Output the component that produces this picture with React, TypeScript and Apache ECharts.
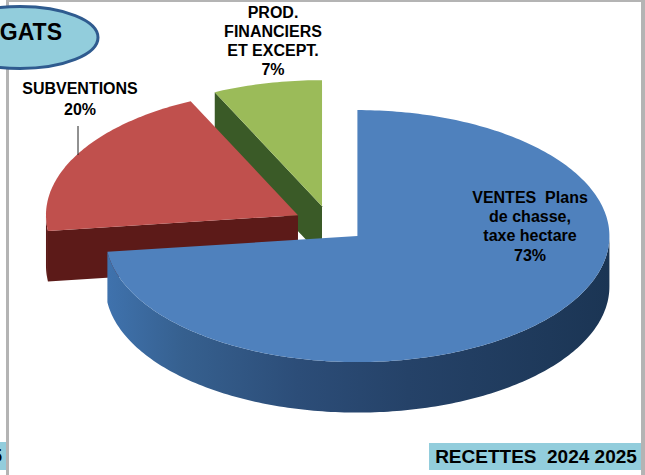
import React, { useEffect, useRef } from "react";
import * as echarts from "echarts";

const categories = ["VENTES  Plans\nde chasse,\ntaxe hectare", "SUBVENTIONS", "PROD.\nFINANCIERS\nET EXCEPT."];
const values = [73, 20, 7];
const topColors = ["#4f81bd", "#c0504d", "#9bbb59"];
const wallColors = ["#2a4a74", "#5c1a18", "#3a5a27"];
const titleText = "GATS";
const cornerText = "RECETTES  2024 2025";
const leftCornerText = "5";

const FONT = '"Liberation Sans", Arial, sans-serif';
const CX = 330, CY = 224, RX = 252, RY = 126, DEPTH = 50.5, EXPLODE = 0.145;

function renderSlice(params: any, api: any) {
  const i = params.dataIndex;
  const total = values.reduce((a, b) => a + b, 0);
  const before = values.slice(0, i).reduce((a, b) => a + b, 0);
  const a0 = (before / total) * 360;
  const a1 = ((before + api.value(0)) / total) * 360;
  const mid = ((a0 + a1) / 2) * Math.PI / 180;
  const ax = CX + EXPLODE * RX * Math.sin(mid);
  const ay = CY - EXPLODE * RY * Math.cos(mid);
  const pt = (deg: number, dy = 0): number[] => {
    const r = deg * Math.PI / 180;
    return [ax + RX * Math.sin(r), ay - RY * Math.cos(r) + dy];
  };
  const rim: number[][] = [];
  for (let d = a0; d < a1; d += 1) rim.push(pt(d));
  rim.push(pt(a1));

  const z = 10 * (values.length - i);
  const children: any[] = [];

  // wall seen along the slice's first cut edge
  if (a0 > 180) {
    children.push({
      type: "polygon",
      z2: z,
      shape: { points: [pt(a0), [ax, ay], [ax, ay + DEPTH], pt(a0, DEPTH)] },
      style: { fill: wallColors[i] },
    });
  }
  // outer wall, lower half of the rim
  if (a0 < 270 && a1 > 90) {
    const from = Math.max(a0, 90);
    const to = Math.min(a1, 270);
    const up: number[][] = [];
    const down: number[][] = [];
    for (let d = from; d < to; d += 1) {
      up.push(pt(d));
      down.unshift(pt(d, DEPTH));
    }
    up.push(pt(to));
    down.unshift(pt(to, DEPTH));
    children.push({
      type: "polygon",
      z2: z + 1,
      shape: { points: up.concat(down) },
      style: {
        fill: i === 0
          ? {
              type: "linear", x: 1, y: 0, x2: 0, y2: 0,
              colorStops: [
                { offset: 0, color: "#1b3554" },
                { offset: 0.4, color: "#254268" },
                { offset: 0.62, color: "#2c4d78" },
                { offset: 0.85, color: "#36608f" },
                { offset: 1, color: "#3f72ad" },
              ],
            }
          : wallColors[i],
      },
    });
  }
  children.push({
    type: "polygon",
    z2: z + 2,
    shape: { points: [[ax, ay], ...rim] },
    style: { fill: topColors[i] },
  });
  return { type: "group", children };
}

export default function App() {
  const ref = useRef<HTMLDivElement>(null);
  useEffect(() => {
    const chart = echarts.init(ref.current!, null, { renderer: "svg" });
    const label = (i: number) => `${categories[i]}\n${values[i]}%`;
    const txt = (text: string, x: number, y: number, extra: any = {}) => ({
      type: "text", x, y, z: 20,
      style: {
        text, fill: "#000", font: `bold 16px ${FONT}`, lineHeight: 19.3,
        textAlign: "center", textVerticalAlign: "top", ...extra,
      },
    });
    chart.setOption({
      animation: false,
      backgroundColor: "#fff",
      series: [{
        type: "custom",
        coordinateSystem: "none",
        renderItem: renderSlice,
        data: values,
        silent: true,
      }],
      graphic: [
        { type: "rect", z: 1, shape: { x: 6, y: 0, width: 3, height: 475 }, style: { fill: "#b4b4b4" } },
        { type: "rect", z: 1, shape: { x: 641, y: 0, width: 4, height: 475 }, style: { fill: "#b4b4b4" } },
        { type: "rect", z: 1, shape: { x: 6, y: 0, width: 639, height: 2 }, style: { fill: "#b4b4b4" } },
        { type: "rect", z: 5, shape: { x: 0, y: 442, width: 6, height: 28 }, style: { fill: "#92cddc" } },
        txt(leftCornerText, 2, 446, { font: `bold 19px ${FONT}`, textAlign: "right" }),
        { type: "rect", z: 5, shape: { x: 429, y: 443, width: 212, height: 27 }, style: { fill: "#92cddc" } },
        txt(cornerText, 536, 447, { font: `bold 19px ${FONT}` }),
        { type: "ellipse", z: 10, shape: { cx: 20, cy: 37.5, rx: 78, ry: 31 }, style: { fill: "#92cddc", stroke: "#2f5b8f", lineWidth: 3 } },
        txt(titleText, 62, 22, { font: `bold 23px ${FONT}`, textAlign: "right" }),
        { type: "line", z: 15, shape: { x1: 78, y1: 126, x2: 78, y2: 155 }, style: { stroke: "#222", lineWidth: 1 } },
        txt(label(1), 80, 78, { lineHeight: 21 }),
        txt(label(2), 273, 2.5, { lineHeight: 19 }),
        txt(label(0), 530, 187.5),
      ],
    });
    return () => chart.dispose();
  }, []);
  return <div ref={ref} style={{ position: "fixed", left: 0, top: 0, width: 645, height: 475 }} />;
}
